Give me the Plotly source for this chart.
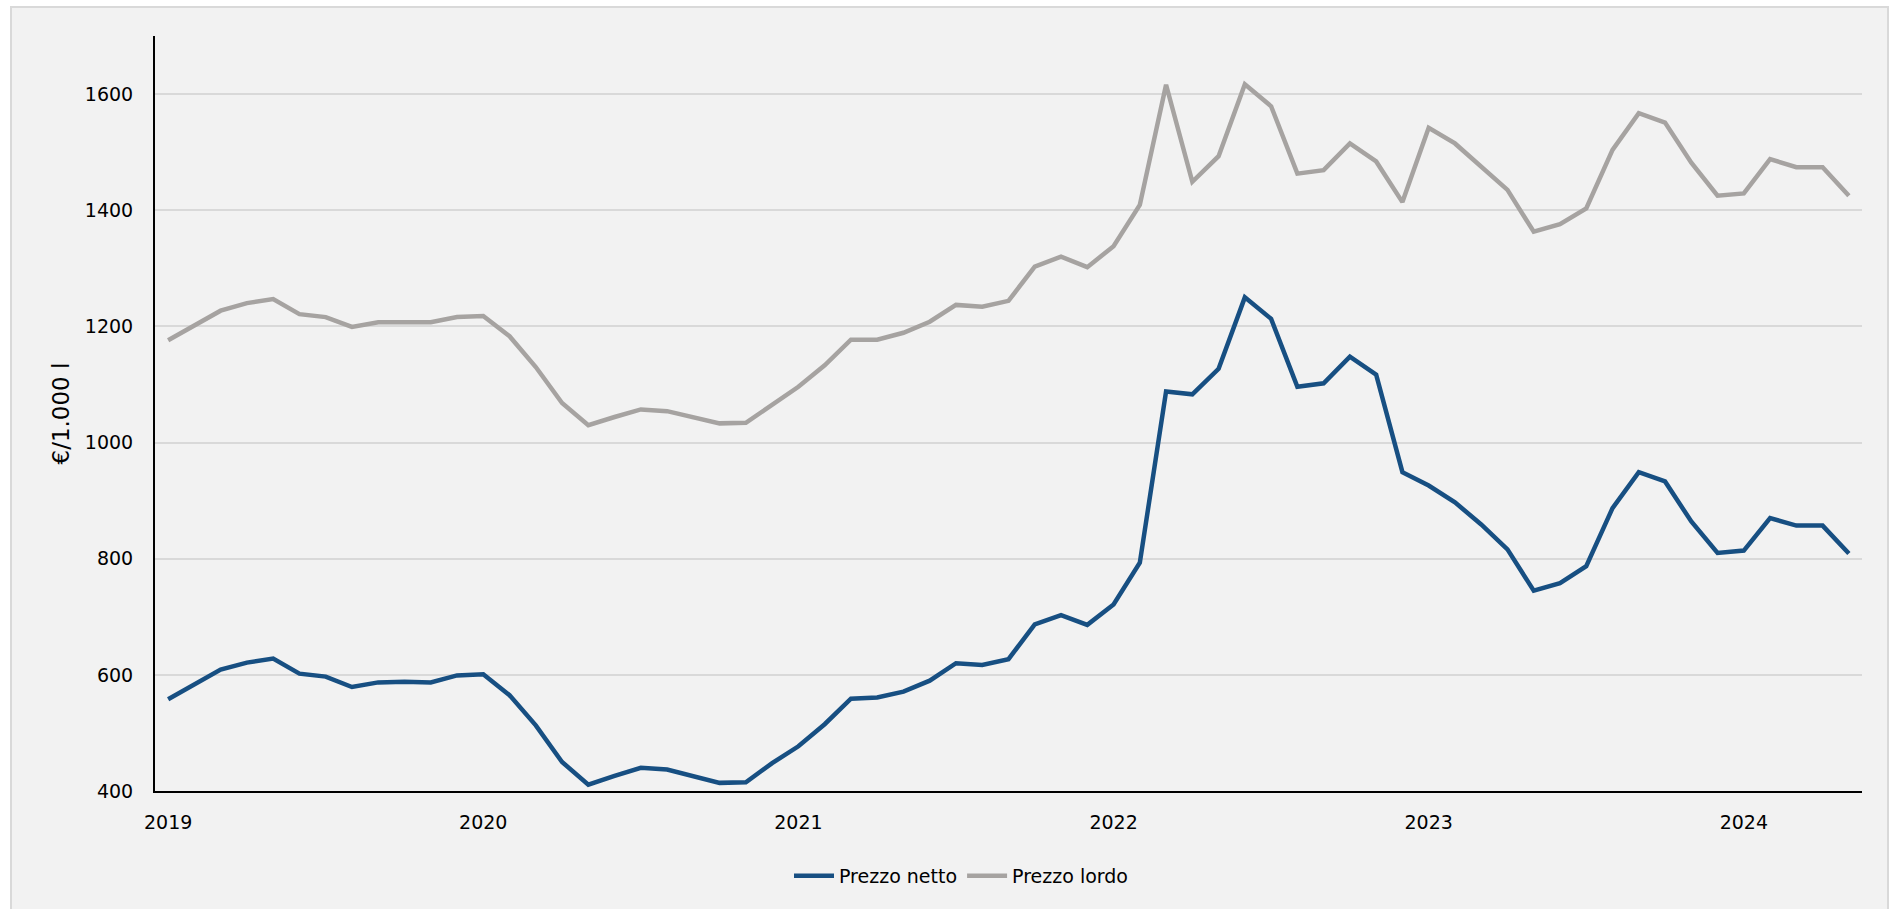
import plotly.graph_objects as go

# Monthly prices, €/1.000 l, January 2019 – May 2024
months = [f"{y}-{m:02d}" for y in range(2019, 2025) for m in range(1, 13)][:65]

prezzo_netto = [
    558, 583, 609, 621, 628, 602, 597, 579, 587, 588, 587, 599,
    601, 565, 513, 450, 411, 426, 440, 437, 425, 414, 415, 448,
    477, 515, 559, 561, 571, 590, 620, 617, 627, 687, 703, 686,
    721, 793, 1088, 1083, 1127, 1250, 1213, 1096, 1102, 1148, 1117, 949,
    926, 897, 859, 816, 745, 758, 787, 887, 949, 933, 864, 810,
    814, 870, 857, 857, 809,
]

prezzo_lordo = [
    1176, 1201, 1227, 1240, 1247, 1221, 1216, 1199, 1207, 1207, 1207, 1216,
    1218, 1183, 1130, 1068, 1030, 1044, 1057, 1054, 1043, 1033, 1034, 1066,
    1096, 1133, 1177, 1177, 1189, 1208, 1237, 1234, 1244, 1303, 1320, 1302,
    1338, 1409, 1616, 1449, 1493, 1617, 1579, 1463, 1469, 1515, 1484, 1414,
    1542, 1515, 1475, 1435, 1363, 1376, 1403, 1504, 1567, 1551, 1482, 1425,
    1429, 1488, 1474, 1474, 1425,
]

year_ticks = ["2019-01", "2020-01", "2021-01", "2022-01", "2023-01", "2024-01"]
year_labels = ["2019", "2020", "2021", "2022", "2023", "2024"]

series_names = ["Prezzo netto", "Prezzo lordo"]
series_colors = ["#174f82", "#a6a3a1"]

FONT = "DejaVu Sans"
W, H = 1899, 909
L, R, T, B = 155, 37, 36, 118
PW, PH = W - L - R, H - T - B


def px_to_paper_x(px):
    return (px - L) / PW


def px_to_paper_y(py):
    return (H - B - py) / PH


fig = go.Figure()
for name, vals, col in zip(series_names, [prezzo_netto, prezzo_lordo], series_colors):
    fig.add_trace(go.Scatter(
        x=months, y=vals, name=name, mode="lines",
        line=dict(color=col, width=4.5, shape="linear"),
    ))

# panel background with a thin border
fig.add_shape(
    type="rect", xref="paper", yref="paper", layer="below",
    x0=px_to_paper_x(11), x1=px_to_paper_x(1888),
    y0=px_to_paper_y(915), y1=px_to_paper_y(7),
    fillcolor="#f2f2f2", line=dict(color="#d9d9d9", width=2),
)

fig.add_annotation(
    text="€/1.000 l", textangle=-90, showarrow=False,
    xref="paper", yref="paper",
    x=px_to_paper_x(60), y=0.5, xanchor="center", yanchor="middle",
    font=dict(family=FONT, size=23, color="#000000"),
)

fig.update_layout(
    width=W, height=H,
    margin=dict(l=L, r=R, t=T, b=B, pad=0),
    paper_bgcolor="#ffffff",
    plot_bgcolor="rgba(0,0,0,0)",
    font=dict(family=FONT, size=19, color="#000000"),
    showlegend=True,
    legend=dict(
        orientation="h", x=px_to_paper_x(961), xanchor="center",
        y=px_to_paper_y(876), yanchor="middle",
        font=dict(family=FONT, size=19, color="#000000"),
        bgcolor="rgba(0,0,0,0)", itemwidth=40, tracegroupgap=0,
    ),
    xaxis=dict(
        type="category", categoryorder="array", categoryarray=months,
        range=[-0.5, len(months) - 0.5],
        tickmode="array", tickvals=year_ticks, ticktext=year_labels,
        showgrid=False, zeroline=False,
        showline=True, linecolor="#000000", linewidth=2,
        ticks="", ticklabelstandoff=13,
        tickfont=dict(family=FONT, size=19, color="#000000"),
    ),
    yaxis=dict(
        range=[400, 1700], tick0=400, dtick=200,
        showgrid=True, gridcolor="#d9d9d9", gridwidth=2,
        zeroline=False,
        showline=True, linecolor="#000000", linewidth=2,
        ticks="", ticklabelstandoff=16,
        tickfont=dict(family=FONT, size=19, color="#000000"),
    ),
)

fig.write_html("out.html")
